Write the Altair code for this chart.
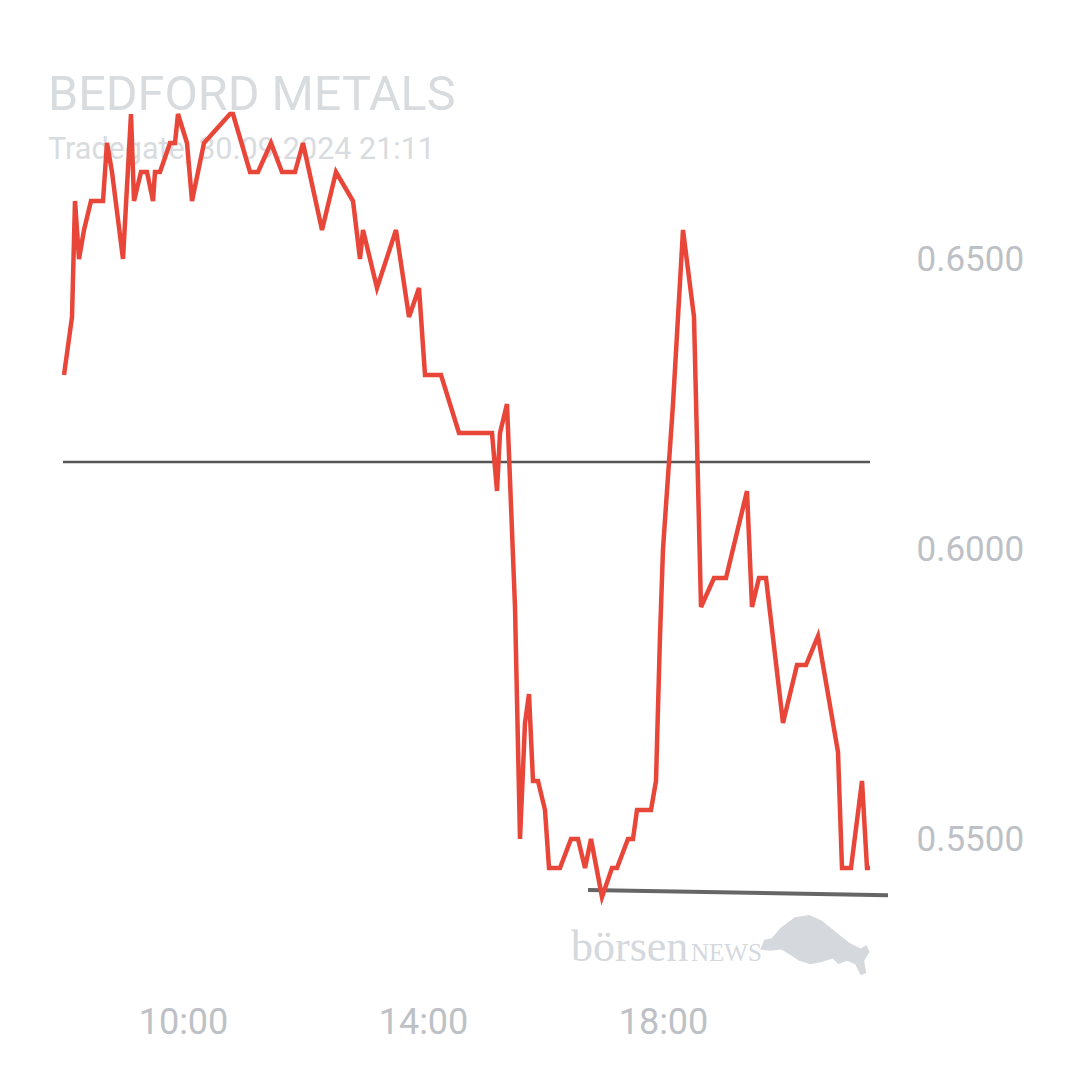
import altair as alt
import pandas as pd

# ---- data ----
times = ["08:01","08:09","08:12","08:16","08:21","08:28","08:40","08:44","08:49","09:00",
         "09:08","09:11","09:18","09:24","09:30","09:32","09:37","09:47","09:52","09:55",
         "10:04","10:09","10:21","10:47","10:50","11:07","11:15","11:28","11:39","11:52",
         "12:00","12:19","12:33","12:50","12:57","13:00","13:14","13:33","13:46","13:56",
         "14:02","14:18","14:36","15:09","15:14","15:17","15:24","15:32","15:37","15:42",
         "15:46","15:50","15:55","16:02","16:06","16:17","16:28","16:35","16:42","16:48",
         "16:59","17:09","17:14","17:25","17:30","17:34","17:48","17:53","17:57","18:00",
         "18:10","18:20","18:31","18:38","18:51","19:03","19:24","19:29","19:36","19:43",
         "20:00","20:14","20:23","20:35","20:55","20:59","21:08","21:19","21:24","21:27"]
prices = [0.630,0.640,0.660,0.650,0.655,0.660,0.660,0.670,0.665,0.650,
          0.675,0.660,0.665,0.665,0.660,0.665,0.665,0.670,0.670,0.675,
          0.670,0.660,0.670,0.675,0.675,0.665,0.665,0.670,0.665,0.665,
          0.670,0.655,0.665,0.660,0.650,0.655,0.645,0.655,0.640,0.645,
          0.630,0.630,0.620,0.620,0.610,0.620,0.625,0.590,0.550,0.570,
          0.575,0.560,0.560,0.555,0.545,0.545,0.550,0.550,0.545,0.550,
          0.540,0.545,0.545,0.550,0.550,0.555,0.555,0.560,0.585,0.600,
          0.625,0.655,0.640,0.590,0.595,0.595,0.610,0.590,0.595,0.595,
          0.570,0.580,0.580,0.585,0.565,0.545,0.545,0.560,0.545,0.545]

prev_close_times = ["08:00", "21:27"]
prev_close_values = [0.615, 0.615]
low_line_times = ["16:45", "21:45"]
low_line_values = [0.5412, 0.5403]

y_ticks = [0.55, 0.60, 0.65]
x_ticks = [10, 14, 18]

title_text = "BEDFORD METALS"
subtitle_text = "Tradegate, 30.09.2024 21:11"


def to_hours(t):
    h, m = t.split(":")
    return int(h) + int(m) / 60.0


df = pd.DataFrame({"h": [to_hours(t) for t in times], "price": prices})
df_prev = pd.DataFrame({"h": [to_hours(t) for t in prev_close_times], "price": prev_close_values})
df_low = pd.DataFrame({"h": [to_hours(t) for t in low_line_times], "price": low_line_values})

W, H = 902, 990
x_dom = [8 - 55 / 60, 8 - 55 / 60 + W / 60]
y_dom = [0.55 - (H - 831) / 5800, 0.55 + 831 / 5800]

FONT = "Roboto"
LABEL = "#BDC1C6"

x_enc = alt.X("h:Q", scale=alt.Scale(domain=x_dom, nice=False, zero=False),
              axis=alt.Axis(values=x_ticks, labelExpr="datum.value + ':00'", title=None,
                            grid=False, ticks=False, domain=False, labelFontSize=36,
                            labelColor=LABEL, labelFont=FONT, labelPadding=7))
y_enc = alt.Y("price:Q", scale=alt.Scale(domain=y_dom, nice=False, zero=False),
              axis=alt.Axis(orient="right", values=y_ticks, format=".4f", title=None,
                            grid=False, ticks=False, domain=False, labelFontSize=35,
                            labelColor=LABEL, labelFont=FONT, labelPadding=6))

base_txt = pd.DataFrame({"t": [0]})

title = alt.Chart(base_txt).mark_text(
    text=title_text, font=FONT, fontSize=48.5, color="#D9DCDF", align="left", baseline="alphabetic"
).encode(x=alt.value(40), y=alt.value(102))

subtitle = alt.Chart(base_txt).mark_text(
    text=subtitle_text, font=FONT, fontSize=30.5, color="#D9DCDF", align="left", baseline="alphabetic"
).encode(x=alt.value(40), y=alt.value(151))

wm1 = alt.Chart(base_txt).mark_text(
    text="börsen", font="Liberation Serif", fontSize=44, color="#D5D8DC", align="left",
    baseline="alphabetic"
).encode(x=alt.value(563), y=alt.value(953))

wm2 = alt.Chart(base_txt).mark_text(
    text="NEWS", font="Liberation Serif", fontSize=25, color="#D5D8DC", align="left",
    baseline="alphabetic"
).encode(x=alt.value(683), y=alt.value(953))

bull_path = ("M -1,0.1 L -0.92,-0.08 L -0.8,-0.1 L -0.62,-0.3 L -0.38,-0.48 L -0.12,-0.52 "
             "L 0.1,-0.42 L 0.35,-0.22 L 0.6,-0.02 L 0.8,0.08 L 0.9,0.02 L 0.96,0.14 L 0.86,0.3 "
             "L 0.9,0.52 L 0.8,0.56 L 0.7,0.36 L 0.55,0.3 L 0.4,0.36 L 0.3,0.26 L 0.1,0.32 "
             "L -0.1,0.36 L -0.3,0.3 L -0.45,0.2 L -0.62,0.1 L -0.82,0.12 Z")
bull = alt.Chart(base_txt).mark_point(
    shape=bull_path, filled=True, color="#D5D8DC", opacity=1, size=12500, strokeWidth=0
).encode(x=alt.value(808), y=alt.value(936))

prev_line = alt.Chart(df_prev).mark_line(color="#555555", strokeWidth=2.5).encode(x=x_enc, y=y_enc)
low_line = alt.Chart(df_low).mark_line(color="#666666", strokeWidth=4).encode(x=x_enc, y=y_enc)
price_line = alt.Chart(df).mark_line(color="#E9463A", strokeWidth=4.5, strokeJoin="miter").encode(
    x=x_enc, y=y_enc)

chart = alt.layer(title, subtitle, wm1, wm2, bull, prev_line, low_line, price_line).properties(
    width=W, height=H,
    autosize=alt.AutoSizeParams(type="none"),
    padding={"left": 0, "top": 0, "right": 160, "bottom": 70},
    background="white",
).configure_view(stroke=None)

chart.save("out.html", embed_options={"renderer": "svg", "actions": False})
